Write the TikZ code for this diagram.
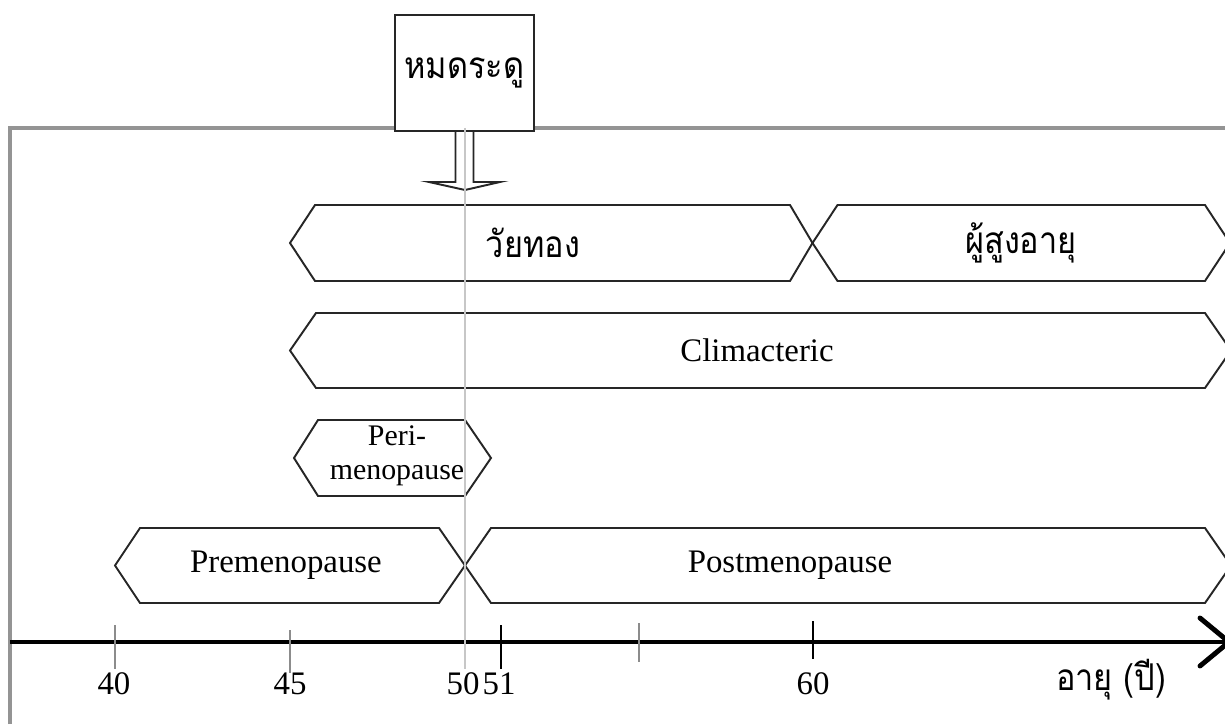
\documentclass[tikz,border=0pt]{standalone}
\usepackage{fontspec}
\setmainfont{Liberation Serif}
\newfontfamily\thaifont[Script=Thai,FakeStretch=0.88]{Loma}
\usetikzlibrary{positioning}

\tikzset{
	band/.style={draw=black!85,line width=1.1pt,fill=white},
	framegray/.style={draw=black!42,line width=1.8pt},
	midline/.style={draw=black!22,line width=1pt},
	tickgray/.style={draw=black!45,line width=0.7pt},
	tickblack/.style={draw=black,line width=0.7pt},
	lbl/.style={font=\fontsize{18.7}{22}\selectfont},
	thlbl/.style={font=\fontsize{21}{25}\selectfont\thaifont}
}

\begin{document}
\begin{tikzpicture}
	\useasboundingbox (0,0) rectangle (24.5,14.48);
	
	\draw[framegray] (0.2,0) -- (0.2,11.92) -- (24.5,11.92);
	
	\draw[band] (9.11,11.86) -- (9.11,10.84) -- (8.58,10.84) -- (9.3,10.68) -- (10.0,10.84) -- (9.47,10.84) -- (9.47,11.86);
	\node[band,thlbl,minimum width=2.78cm,minimum height=2.32cm] (menobox) at (9.29,13.02) {หมดระดู};
	
	\draw[band] (5.8,9.62) -- (6.3,10.38) -- (15.8,10.38) -- (16.25,9.62) -- (15.8,8.86) -- (6.3,8.86) -- cycle;
	\draw[band] (16.25,9.62) -- (16.75,10.38) -- (24.1,10.38) -- (24.6,9.62) -- (24.1,8.86) -- (16.75,8.86) -- cycle;
	\draw[band] (5.8,7.47) -- (6.32,8.22) -- (24.1,8.22) -- (24.62,7.47) -- (24.1,6.72) -- (6.32,6.72) -- cycle;
	\draw[band] (5.88,5.32) -- (6.36,6.08) -- (9.3,6.08) -- (9.82,5.32) -- (9.3,4.56) -- (6.36,4.56) -- cycle;
	\draw[band] (2.3,3.17) -- (2.8,3.92) -- (8.78,3.92) -- (9.3,3.17) -- (8.78,2.42) -- (2.8,2.42) -- cycle;
	\draw[band] (9.3,3.17) -- (9.82,3.92) -- (24.1,3.92) -- (24.62,3.17) -- (24.1,2.42) -- (9.82,2.42) -- cycle;
	
	\node[thlbl] (goldenage) at (10.66,9.62) {วัยทอง};
	\node[thlbl] (elderly) at (20.42,9.62) {ผู้สูงอายุ};
	\node[lbl] (climacteric) at (15.14,7.47) {Climacteric};
	\node[font=\fontsize{17}{19.6}\selectfont,align=center,inner sep=0pt] (peri) at (7.94,5.36) {Peri-\\menopause};
	\node[lbl] (premeno) at (5.72,3.17) {Premenopause};
	\node[lbl] (postmeno) at (15.8,3.17) {Postmenopause};
	
	\draw[line width=2.8pt] (0.2,1.64) -- (24.5,1.64);
	\draw[line width=2.8pt,line cap=round] (24.0,2.12) -- (24.58,1.64) -- (24.0,1.16);
	
	\draw[tickgray] (2.3,1.98) -- (2.3,1.1);
	\draw[tickgray] (5.8,1.88) -- (5.8,1.02);
	\draw[tickblack] (10.02,1.98) -- (10.02,1.1);
	\draw[tickgray] (12.78,2.02) -- (12.78,1.24);
	\draw[tickblack] (16.26,2.06) -- (16.26,1.3);
	
	\node[lbl] (age40) at (2.28,0.8) {40};
	\node[lbl] (age45) at (5.8,0.8) {45};
	\node[lbl] (age50) at (9.26,0.8) {50};
	\node[lbl] (age51) at (9.98,0.8) {51};
	\node[lbl] (age60) at (16.26,0.8) {60};
	\node[thlbl] (agelabel) at (22.22,0.88) {อายุ (ปี)};
	
	\draw[midline] (9.3,11.92) -- (9.3,1.1);
\end{tikzpicture}
\end{document}
